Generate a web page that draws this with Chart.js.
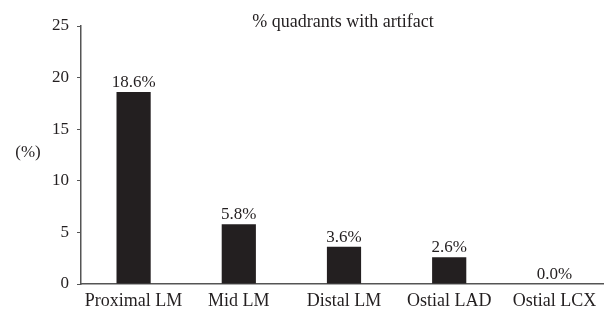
<!DOCTYPE html>
<html>
<head>
<meta charset="utf-8">
<script src="https://cdn.jsdelivr.net/npm/chart.js@4.4.1/dist/chart.umd.min.js"></script>
<style>
html,body{margin:0;padding:0;background:#fff;overflow:hidden;width:604px;height:309px;}
#wrap{width:607px;height:309px;}
</style>
</head>
<body>
<div id="wrap"><canvas id="c" width="607" height="309"></canvas></div>
<script>
const categories = ["Proximal LM", "Mid LM", "Distal LM", "Ostial LAD", "Ostial LCX"];
const values = [18.6, 5.8, 3.6, 2.6, 0.0];
const valueLabels = ["18.6%", "5.8%", "3.6%", "2.6%", "0.0%"];
const yTicks = [0, 5, 10, 15, 20, 25];
const titleText = "% quadrants with artifact";
const yAxisLabel = "(%)";

const FONT = "'Liberation Serif', 'Times New Roman', serif";
const TEXT = "#231f20";

const overlay = {
  id: 'overlay',
  afterDatasetsDraw(chart) {
    const ctx = chart.ctx;
    const meta = chart.getDatasetMeta(0);
    ctx.save();
    ctx.fillStyle = TEXT;
    ctx.font = "17px " + FONT;
    ctx.textAlign = 'center';
    ctx.textBaseline = 'alphabetic';
    meta.data.forEach((bar, i) => {
      ctx.fillText(valueLabels[i], bar.x, bar.y - 5);
    });
    const a = chart.chartArea;
    ctx.font = "18px " + FONT;
    ctx.fillText(titleText, 343, 26.5);
    ctx.font = "17px " + FONT;
    ctx.textBaseline = 'middle';
    ctx.fillText(yAxisLabel, 28, (a.top + a.bottom) / 2 - 2);
    ctx.restore();
  }
};

new Chart(document.getElementById('c'), {
  type: 'bar',
  data: {
    labels: categories,
    datasets: [{
      data: values,
      backgroundColor: '#231f20',
      borderWidth: 0,
      categoryPercentage: 1,
      barPercentage: 0.325
    }]
  },
  options: {
    responsive: false,
    animation: false,
    devicePixelRatio: 1,
    layout: { padding: { top: 26, left: 0, right: 0, bottom: 0 } },
    plugins: { legend: { display: false }, tooltip: { enabled: false }, title: { display: false } },
    scales: {
      x: {
        grid: { display: false, drawTicks: false },
        border: { display: true, color: '#555', width: 1.5 },
        ticks: { color: TEXT, font: { family: FONT, size: 18 }, padding: 6, maxRotation: 0 },
        afterFit(s) { s.height = 25; }
      },
      y: {
        min: 0, max: 25,
        afterBuildTicks(s) { s.ticks = yTicks.map(v => ({ value: v })); },
        grid: { drawOnChartArea: false, drawTicks: true, tickLength: 4, color: '#555' },
        border: { display: true, color: '#555', width: 1.5 },
        ticks: { color: TEXT, font: { family: FONT, size: 17 }, padding: 8 },
        afterFit(s) { s.width = 81; }
      }
    }
  },
  plugins: [overlay]
});
</script>
</body>
</html>
